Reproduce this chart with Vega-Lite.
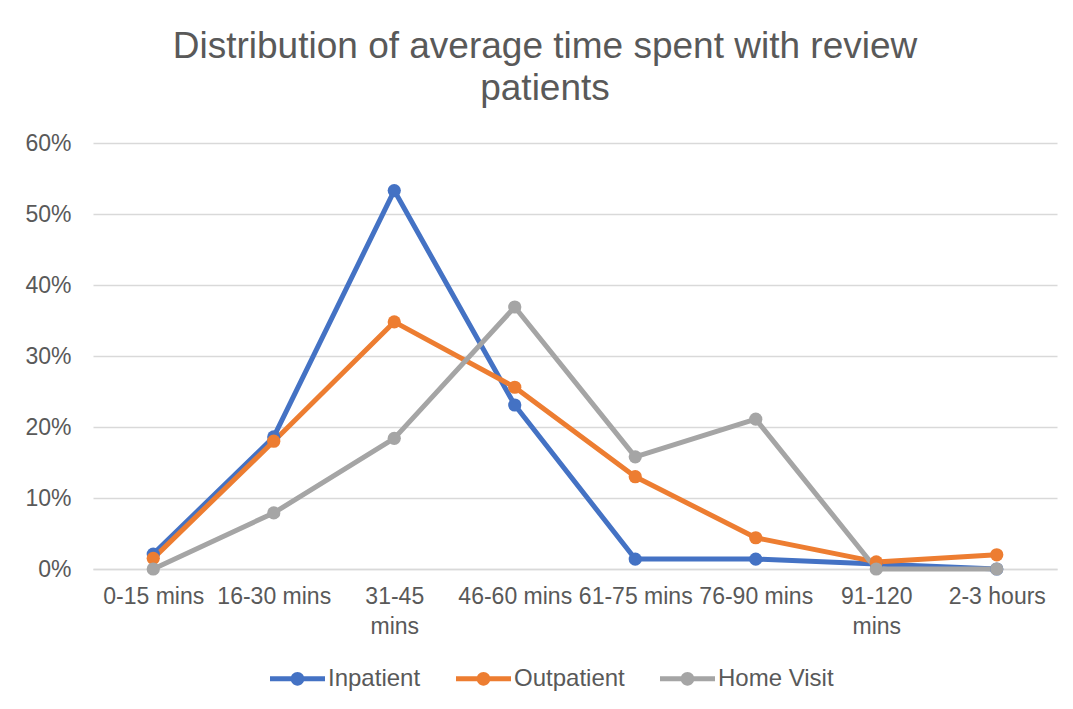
{
  "$schema": "https://vega.github.io/schema/vega-lite/v6.json",
  "autosize": "none",
  "width": 964,
  "height": 426,
  "padding": {"left": 93, "top": 143, "right": 16, "bottom": 140},
  "background": "white",
  "title": {
    "text": ["Distribution of average time spent with review", "patients"],
    "anchor": "middle",
    "frame": "group",
    "dx": -30,
    "offset": 24,
    "font": "Liberation Sans",
    "fontSize": 37,
    "fontWeight": "normal",
    "color": "#595959",
    "lineHeight": 42
  },
  "data": {
    "values": [
      {"time": "0-15 mins", "series": "Inpatient", "value": 0.021},
      {"time": "16-30 mins", "series": "Inpatient", "value": 0.186},
      {"time": "31-45 mins", "series": "Inpatient", "value": 0.533},
      {"time": "46-60 mins", "series": "Inpatient", "value": 0.231},
      {"time": "61-75 mins", "series": "Inpatient", "value": 0.014},
      {"time": "76-90 mins", "series": "Inpatient", "value": 0.014},
      {"time": "91-120 mins", "series": "Inpatient", "value": 0.007},
      {"time": "2-3 hours", "series": "Inpatient", "value": 0.0},
      {"time": "0-15 mins", "series": "Outpatient", "value": 0.015},
      {"time": "16-30 mins", "series": "Outpatient", "value": 0.18},
      {"time": "31-45 mins", "series": "Outpatient", "value": 0.348},
      {"time": "46-60 mins", "series": "Outpatient", "value": 0.256},
      {"time": "61-75 mins", "series": "Outpatient", "value": 0.13},
      {"time": "76-90 mins", "series": "Outpatient", "value": 0.044},
      {"time": "91-120 mins", "series": "Outpatient", "value": 0.01},
      {"time": "2-3 hours", "series": "Outpatient", "value": 0.02},
      {"time": "0-15 mins", "series": "Home Visit", "value": 0.0},
      {"time": "16-30 mins", "series": "Home Visit", "value": 0.079},
      {"time": "31-45 mins", "series": "Home Visit", "value": 0.184},
      {"time": "46-60 mins", "series": "Home Visit", "value": 0.369},
      {"time": "61-75 mins", "series": "Home Visit", "value": 0.158},
      {"time": "76-90 mins", "series": "Home Visit", "value": 0.211},
      {"time": "91-120 mins", "series": "Home Visit", "value": 0.0},
      {"time": "2-3 hours", "series": "Home Visit", "value": 0.0}
    ]
  },
  "encoding": {
    "x": {
      "field": "time",
      "type": "nominal",
      "sort": null,
      "scale": {"type": "point", "padding": 0.5},
      "axis": {
        "title": null,
        "labelAngle": 0,
        "labelFont": "Liberation Sans",
        "labelFontSize": 23,
        "labelColor": "#595959",
        "labelPadding": 16,
        "labelLineHeight": 30,
        "labelBaseline": "top",
        "ticks": false,
        "grid": false,
        "domainColor": "#d9d9d9",
        "domainWidth": 1.5,
        "labelOverlap": false,
        "labelExpr": "datum.value == '31-45 mins' ? ['31-45', 'mins'] : datum.value == '91-120 mins' ? ['91-120', 'mins'] : datum.value"
      }
    },
    "y": {
      "field": "value",
      "type": "quantitative",
      "scale": {"domain": [0, 0.6], "nice": false},
      "axis": {
        "title": null,
        "format": ".0%",
        "values": [0, 0.1, 0.2, 0.3, 0.4, 0.5, 0.6],
        "labelFont": "Liberation Sans",
        "labelFontSize": 23,
        "labelColor": "#595959",
        "labelPadding": 22,
        "ticks": false,
        "domain": false,
        "gridColor": "#d9d9d9",
        "gridWidth": 1.5
      }
    },
    "color": {
      "field": "series",
      "type": "nominal",
      "sort": ["Inpatient", "Outpatient", "Home Visit"],
      "scale": {
        "domain": ["Inpatient", "Outpatient", "Home Visit"],
        "range": ["#4472C4", "#ED7D31", "#A5A5A5"]
      },
      "legend": {
        "title": null,
        "orient": "none",
        "direction": "horizontal",
        "legendX": 177,
        "legendY": 508,
        "labelFont": "Liberation Sans",
        "labelFontSize": 24,
        "labelColor": "#595959",
        "labelOffset": 3,
        "columnPadding": 35,
        "symbolSize": 3025,
        "symbolType": "M -1 -0.09 L 1 -0.09 L 1 0.09 L -1 0.09 Z M 0.25 0 A 0.25 0.25 0 1 1 -0.25 0 A 0.25 0.25 0 1 1 0.25 0 Z",
        "symbolStrokeWidth": 0,
        "encode": {
          "symbols": {"update": {"fill": {"scale": "color", "field": "value"}, "strokeWidth": {"value": 0}, "opacity": {"value": 1}}}
        }
      }
    }
  },
  "layer": [
    {
      "mark": {"type": "line", "strokeWidth": 5, "strokeJoin": "round", "strokeCap": "round"}
    },
    {
      "mark": {"type": "point", "filled": true, "size": 175, "opacity": 1}
    }
  ],
  "config": {
    "view": {"stroke": null}
  }
}
